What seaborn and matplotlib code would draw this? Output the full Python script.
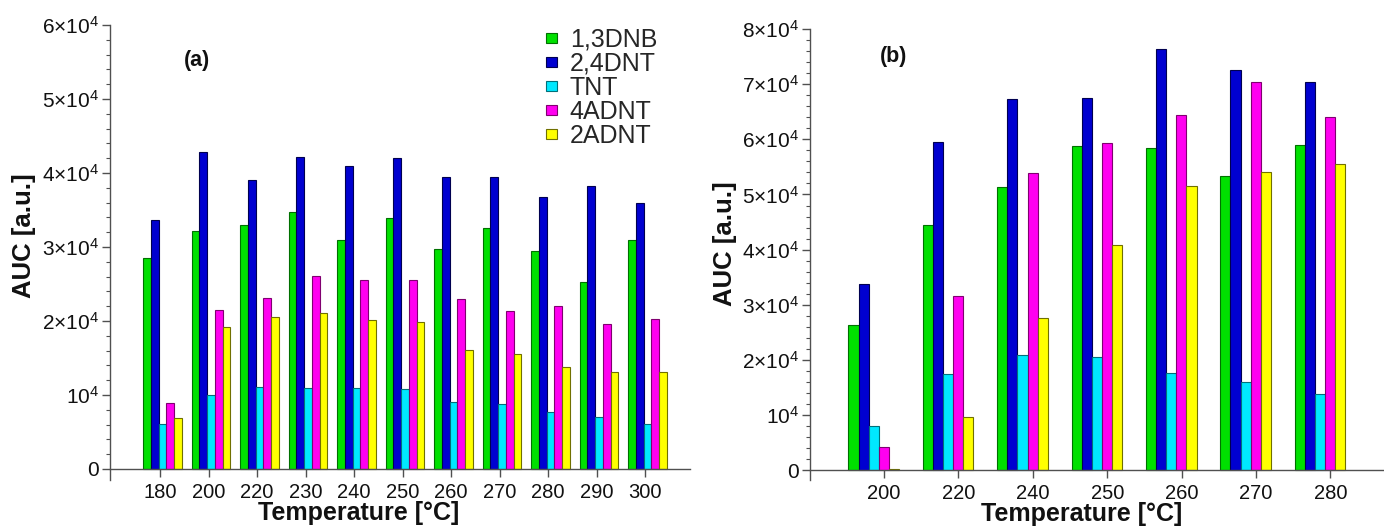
import numpy as np
import pandas as pd
import matplotlib
matplotlib.use('Agg')
import matplotlib.pyplot as plt
from matplotlib.patches import Patch
from matplotlib.ticker import MultipleLocator
import seaborn as sns

# ---------------- data ----------------
compounds = ['1,3DNB', '2,4DNT', 'TNT', '4ADNT', '2ADNT']

temps_a = ['180', '200', '220', '230', '240', '250', '260', '270', '280', '290', '300']
dnb13_a = [28500, 32200, 33000, 34700, 31000, 33900, 29700, 32500, 29500, 25300, 31000]
dnt24_a = [33700, 42800, 39100, 42200, 40900, 42000, 39400, 39400, 36800, 38200, 36000]
tnt_a = [6100, 10000, 11100, 10900, 11000, 10800, 9100, 8800, 7700, 7000, 6100]
adnt4_a = [8900, 21500, 23100, 26100, 25600, 25500, 23000, 21400, 22000, 19600, 20300]
adnt2_a = [6900, 19200, 20600, 21100, 20200, 19900, 16100, 15600, 13800, 13100, 13100]

temps_b = ['200', '220', '240', '250', '260', '270', '280']
dnb13_b = [26300, 44400, 51400, 58700, 58400, 53400, 59000]
dnt24_b = [33800, 59500, 67300, 67500, 76400, 72500, 70400]
tnt_b = [8000, 17400, 20900, 20500, 17600, 16000, 13800]
adnt4_b = [4200, 31600, 53900, 59400, 64400, 70400, 64000]
adnt2_b = [200, 9700, 27600, 40800, 51500, 54100, 55500]

yticks_a = [0, 10000, 20000, 30000, 40000, 50000, 60000]
yticklabels_a = ['0', '10$^4$', '2×10$^4$', '3×10$^4$', '4×10$^4$', '5×10$^4$', '6×10$^4$']
yticks_b = [0, 10000, 20000, 30000, 40000, 50000, 60000, 70000, 80000]
yticklabels_b = ['0', '10$^4$', '2×10$^4$', '3×10$^4$', '4×10$^4$', '5×10$^4$',
                 '6×10$^4$', '7×10$^4$', '8×10$^4$']

# ---------------- style ----------------
face = {'1,3DNB': '#00E000', '2,4DNT': '#0000D0', 'TNT': '#00E8FF',
        '4ADNT': '#FF00F0', '2ADNT': '#FFFF00'}
edge = {'1,3DNB': '#007000', '2,4DNT': '#000050', 'TNT': '#00707a',
        '4ADNT': '#800070', '2ADNT': '#707000'}

sns.set_theme(style='ticks')
plt.rcParams['font.family'] = ['Liberation Sans', 'DejaVu Sans']
plt.rcParams['mathtext.fontset'] = 'custom'
plt.rcParams['mathtext.rm'] = 'Liberation Sans'
plt.rcParams['mathtext.it'] = 'Liberation Sans:italic'
plt.rcParams['mathtext.bf'] = 'Liberation Sans:bold'

axis_col = '#505050'


def make_df(temps, series):
    rows = []
    for comp, vals in zip(compounds, series):
        for t, v in zip(temps, vals):
            rows.append({'Temperature': t, 'AUC': v, 'Compound': comp})
    return pd.DataFrame(rows)


df_a = make_df(temps_a, [dnb13_a, dnt24_a, tnt_a, adnt4_a, adnt2_a])
df_b = make_df(temps_b, [dnb13_b, dnt24_b, tnt_b, adnt4_b, adnt2_b])

fig = plt.figure(figsize=(13.84, 5.26), dpi=100)
ax_a = fig.add_axes([110 / 1384, 46 / 526, 580 / 1384, 455 / 526])
ax_b = fig.add_axes([810 / 1384, 46 / 526, 574 / 1384, 451 / 526])


def draw(ax, df, temps, width, tick_off, yticks, ylabels, ylim, xlim, xlab_x, xlab_y,
         ylab_y, tag, tag_xy):
    sns.barplot(data=df, x='Temperature', y='AUC', hue='Compound', order=temps,
                hue_order=compounds, palette=face, width=width, saturation=1,
                linewidth=0.8, ax=ax, legend=False, errorbar=None)
    for cont, comp in zip(ax.containers, compounds):
        for p in cont:
            p.set_edgecolor(edge[comp])
    ax.set_xticks(np.arange(len(temps)) + tick_off, labels=temps)
    ax.set_xlim(*xlim)
    ax.set_ylim(*ylim)
    ax.set_yticks(yticks, labels=ylabels)
    ax.yaxis.set_minor_locator(MultipleLocator(2000))
    ax.spines['top'].set_visible(False)
    ax.spines['right'].set_visible(False)
    ax.spines['bottom'].set_position(('data', 0))
    for s in ('left', 'bottom'):
        ax.spines[s].set_color(axis_col)
        ax.spines[s].set_linewidth(1.0)
    ax.tick_params(axis='y', which='major', length=6, width=1, color=axis_col,
                   labelsize=15, pad=2, labelcolor='#111111')
    ax.tick_params(axis='y', which='minor', length=3, width=0.8, color=axis_col)
    ax.tick_params(axis='x', which='major', length=6, width=1, color=axis_col,
                   labelsize=14.5, pad=4, labelcolor='#111111')
    ax.set_xlabel('Temperature [°C]', fontsize=18, fontweight='bold', color='#111111')
    ax.set_ylabel('AUC [a.u.]', fontsize=18.5, fontweight='bold', color='#111111')
    ax.xaxis.set_label_coords(xlab_x, xlab_y)
    ax.yaxis.set_label_coords(-0.128, ylab_y)
    ax.text(tag_xy[0], tag_xy[1], tag, transform=ax.transAxes, fontsize=15.5,
            fontweight='bold', ha='center', va='center', color='#111111')
    ax.set_facecolor('white')


draw(ax_a, df_a, temps_a, 0.8, -0.05, yticks_a, yticklabels_a, (-1490, 60000),
     (-1.082, 10.876), 0.428, -0.047, 0.536, '(a)', (0.15, 0.921))
draw(ax_b, df_b, temps_b, 0.68, 0.14, yticks_b, yticklabels_b, (-1760, 80000),
     (-0.856, 6.86), 0.474, -0.048, 0.525, '(b)', (0.146, 0.940))

handles = [Patch(facecolor=face[c], edgecolor=edge[c], linewidth=0.8) for c in compounds]
fig.legend(handles, compounds, loc='upper left', bbox_to_anchor=(546 / 1384, 1 - 28 / 526),
           frameon=False, fontsize=18, handlelength=0.45, handleheight=0.28,
           handletextpad=0.5, labelspacing=0.0, borderpad=0, borderaxespad=0)

fig.savefig('out.png', dpi=100, facecolor='white')
